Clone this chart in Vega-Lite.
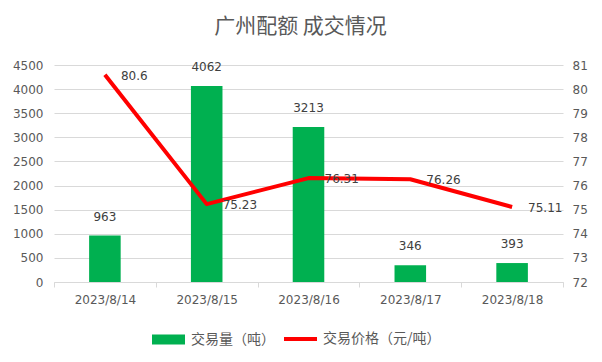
{
  "$schema": "https://vega.github.io/schema/vega-lite/v6.json",
  "width": 509,
  "height": 217,
  "autosize": {"type": "none"},
  "padding": {"left": 54, "top": 65, "right": 39, "bottom": 80},
  "background": "white",
  "title": {
    "text": "广州配额 成交情况",
    "font": "Noto Sans CJK SC",
    "fontSize": 21,
    "fontWeight": "normal",
    "color": "#595959",
    "anchor": "middle",
    "dx": -8,
    "offset": 22
  },
  "config": {
    "view": {"stroke": null},
    "font": "DejaVu Sans"
  },
  "data": {
    "values": [
      {"date": "2023/8/14", "volume": 963, "price": 80.6},
      {"date": "2023/8/15", "volume": 4062, "price": 75.23},
      {"date": "2023/8/16", "volume": 3213, "price": 76.31},
      {"date": "2023/8/17", "volume": 346, "price": 76.26},
      {"date": "2023/8/18", "volume": 393, "price": 75.11}
    ]
  },
  "encoding": {
    "x": {
      "field": "date",
      "type": "nominal",
      "sort": null,
      "scale": {"paddingInner": 0, "paddingOuter": 0},
      "axis": {
        "title": null,
        "labelAngle": 0,
        "labelFontSize": 12,
        "labelColor": "#595959",
        "labelPadding": 7,
        "tickBand": "extent",
        "tickColor": "#d9d9d9",
        "tickSize": 5,
        "domainColor": "#d9d9d9",
        "grid": false
      }
    }
  },
  "layer": [
    {
      "encoding": {
        "y": {
          "field": "volume",
          "type": "quantitative",
          "scale": {"domain": [0, 4500]},
          "axis": {
            "title": null,
            "values": [0, 500, 1000, 1500, 2000, 2500, 3000, 3500, 4000, 4500],
            "labelOverlap": false,
            "labelFontSize": 12,
            "labelColor": "#595959",
            "labelPadding": 11,
            "domain": false,
            "ticks": false,
            "gridColor": "#d9d9d9",
            "format": "d"
          }
        }
      },
      "layer": [
        {
          "mark": {"type": "bar", "width": {"band": 0.31}},
          "encoding": {
            "color": {
              "datum": "交易量（吨）",
              "scale": {"domain": ["交易量（吨）", "交易价格（元/吨）"], "range": ["#00B050", "#FF0000"]},
              "legend": {
                "title": null,
                "orient": "none",
                "legendX": 98,
                "legendY": 267,
                "direction": "horizontal",
                "labelFont": "Noto Sans CJK SC",
                "labelFontSize": 14,
                "labelColor": "#595959",
                "labelOffset": 5,
                "columnPadding": 1,
                "symbolSize": 1089,
                "encode": {
                  "symbols": {
                    "update": {
                      "x": {"value": 16.5},
                      "shape": {"signal": "datum.value === '交易量（吨）' ? 'M-1,-0.3H1V0.3H-1Z' : 'stroke'"},
                      "size": {"value": 1089},
                      "fill": {"signal": "datum.value === '交易量（吨）' ? '#00B050' : 'transparent'"},
                      "stroke": {"signal": "datum.value === '交易量（吨）' ? 'transparent' : '#FF0000'"},
                      "strokeWidth": {"signal": "datum.value === '交易量（吨）' ? 0 : 4"},
                      "opacity": {"value": 1},
                      "fillOpacity": {"value": 1},
                      "strokeOpacity": {"value": 1}
                    }
                  },
                  "labels": {
                    "update": {
                      "x": {"value": 39}
                    }
                  }
                }
              }
            }
          }
        },
        {
          "mark": {"type": "text", "baseline": "middle", "dy": -19, "fontSize": 12, "color": "#404040"},
          "encoding": {
            "text": {"field": "volume", "type": "quantitative", "format": "d"}
          }
        }
      ]
    },
    {
      "encoding": {
        "y": {
          "field": "price",
          "type": "quantitative",
          "scale": {"domain": [72, 81], "zero": false},
          "axis": {
            "orient": "right",
            "title": null,
            "values": [72, 73, 74, 75, 76, 77, 78, 79, 80, 81],
            "labelOverlap": false,
            "labelFontSize": 12,
            "labelColor": "#595959",
            "labelPadding": 9,
            "domain": false,
            "ticks": false,
            "grid": false
          }
        }
      },
      "layer": [
        {
          "mark": {"type": "line", "strokeWidth": 4, "strokeJoin": "round"},
          "encoding": {
            "color": {"datum": "交易价格（元/吨）"}
          }
        },
        {
          "mark": {"type": "text", "align": "left", "baseline": "middle", "dx": 16, "dy": 1, "fontSize": 12, "color": "#404040"},
          "encoding": {
            "text": {"field": "price", "type": "quantitative"}
          }
        }
      ]
    }
  ],
  "resolve": {"scale": {"y": "independent"}}
}
